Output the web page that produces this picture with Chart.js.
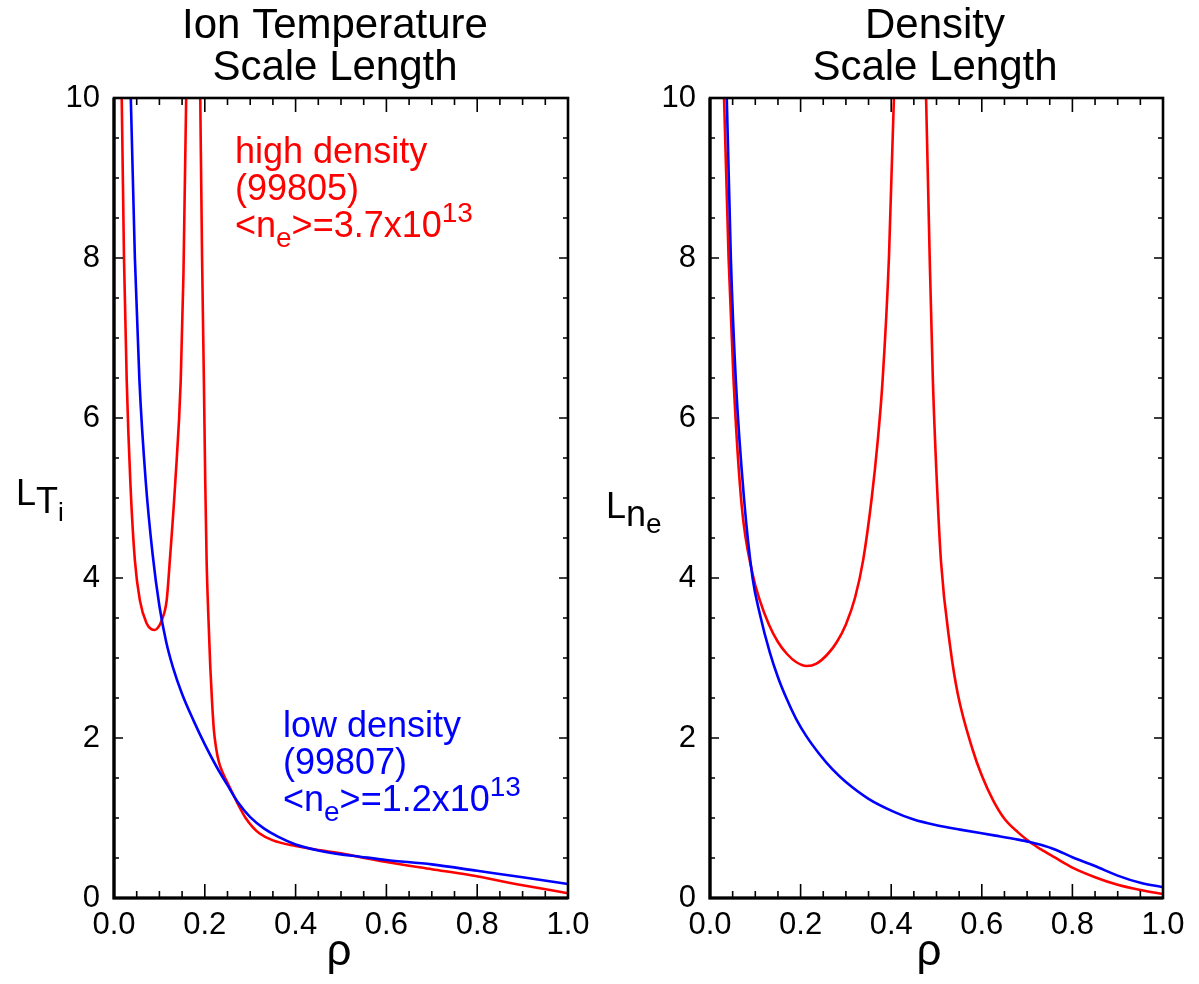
<!DOCTYPE html>
<html>
<head>
<meta charset="utf-8">
<script src="https://cdn.jsdelivr.net/npm/chart.js@4.4.1/dist/chart.umd.min.js"></script>
<style>
  html, body { margin: 0; padding: 0; background: #fff; }
  .panel { position: absolute; top: 0; height: 984px; }
  #left { left: 0; width: 600px; }
  #right { left: 600px; width: 599px; }
</style>
</head>
<body>
<div class="panel" id="left"><canvas id="tiChart"></canvas></div>
<div class="panel" id="right"><canvas id="neChart"></canvas></div>
<script>
// --- data (null = break where the scale length blows up) ---
const rhoTiHigh = [0.010, 0.017, 0.022, 0.028, 0.036, 0.046, 0.057, 0.072, 0.082, 0.090, 0.097, 0.105, 0.116, 0.123, 0.135, 0.147, 0.153, 0.159, 0.166,
                   0.174,
                   0.182, 0.190, 0.194, 0.198, 0.201, 0.204, 0.208, 0.212, 0.216, 0.220, 0.225, 0.231, 0.240, 0.250, 0.262, 0.275, 0.290, 0.305, 0.320, 0.350, 0.400, 0.450, 0.500, 0.530, 0.600, 0.700, 0.780, 0.900, 1.000];
const tiHigh    = [14, 10, 8, 6.47, 5.2, 4.22, 3.72, 3.43, 3.36, 3.35, 3.38, 3.47, 3.72, 4.22, 5.2, 6.47, 7.8, 10, 14,
                   null,
                   14, 10, 8, 6.47, 5.2, 4.22, 3.5, 2.9, 2.45, 2.1, 1.87, 1.7, 1.56, 1.44, 1.3, 1.15, 1.0, 0.89, 0.81, 0.72, 0.65, 0.60, 0.56, 0.525, 0.45, 0.36, 0.29, 0.16, 0.06];

const rhoTiLow  = [0.030, 0.037, 0.046, 0.056, 0.070, 0.085, 0.100, 0.115, 0.130, 0.150, 0.175, 0.200, 0.225, 0.250, 0.275, 0.300, 0.330, 0.360, 0.400, 0.450, 0.500, 0.530, 0.600, 0.700, 0.800, 0.900, 1.000];
const tiLow     = [12.5, 10, 8, 6.47, 5.2, 4.3, 3.65, 3.2, 2.88, 2.55, 2.22, 1.92, 1.65, 1.41, 1.18, 1.01, 0.87, 0.77, 0.67, 0.595, 0.545, 0.525, 0.475, 0.42, 0.34, 0.26, 0.175];

const rhoNeHigh = [0.024, 0.031, 0.041, 0.052, 0.070, 0.094, 0.110, 0.130, 0.150, 0.170, 0.190, 0.213, 0.235, 0.260, 0.280, 0.300, 0.320, 0.338, 0.357, 0.370, 0.381, 0.395, 0.406, 0.415,
                   0.440,
                   0.470, 0.477, 0.485, 0.492, 0.500, 0.510, 0.530, 0.547, 0.580, 0.600, 0.625, 0.650, 0.680, 0.706, 0.730, 0.760, 0.800, 0.850, 0.900, 0.950, 1.000];
const neHigh    = [12, 10, 8, 6.47, 4.9, 4.05, 3.72, 3.42, 3.2, 3.05, 2.95, 2.9, 2.93, 3.05, 3.2, 3.42, 3.75, 4.22, 5.0, 5.7, 6.47, 8, 10, 12,
                   null,
                   12, 10, 8, 6.47, 5.3, 4.2, 3.15, 2.55, 1.85, 1.53, 1.22, 0.99, 0.82, 0.70, 0.61, 0.51, 0.38, 0.26, 0.165, 0.10, 0.05];

const rhoNeLow  = [0.030, 0.037, 0.046, 0.057, 0.075, 0.094, 0.110, 0.132, 0.150, 0.170, 0.190, 0.213, 0.240, 0.270, 0.300, 0.350, 0.405, 0.450, 0.500, 0.552, 0.630, 0.680, 0.706, 0.730, 0.760, 0.800, 0.850, 0.900, 0.950, 1.000];
const neLow     = [12, 10, 8, 6.47, 5.0, 4.0, 3.55, 3.07, 2.76, 2.48, 2.24, 2.02, 1.81, 1.61, 1.45, 1.24, 1.08, 0.98, 0.91, 0.855, 0.78, 0.73, 0.70, 0.665, 0.61, 0.51, 0.40, 0.28, 0.19, 0.135];

const xTicks = [0.0, 0.2, 0.4, 0.6, 0.8, 1.0];
const yTicks = [0, 2, 4, 6, 8, 10];

const RED = '#ff0000';
const BLUE = '#0000ff';
const FONT = '"Liberation Sans", Arial, Helvetica, sans-serif';

function pts(xs, ys) {
    return xs.map((x, i) => ({ x: x, y: ys[i] }));
}

function line(xs, ys, color) {
    return {
        data: pts(xs, ys),
        borderColor: color,
        borderWidth: 2.6,
        pointRadius: 0,
        showLine: true,
        spanGaps: false,
        cubicInterpolationMode: 'monotone',
        clip: 0
    };
}

// draw text runs: [text, sizePx, dyFromBaseline]
function runs(ctx, x, y, parts, color) {
    ctx.fillStyle = color;
    ctx.textAlign = 'left';
    ctx.textBaseline = 'alphabetic';
    parts.forEach(p => {
        ctx.font = p[1] + 'px ' + FONT;
        ctx.fillText(p[0], x, y + p[2]);
        x += ctx.measureText(p[0]).width;
    });
}

// frame + inward ticks on all four sides, plus the page texts
function framePlugin(opts) {
    return {
        id: 'frame',
        afterDraw(chart) {
            const ctx = chart.ctx;
            const a = chart.chartArea;
            const xs = chart.scales.x, ys = chart.scales.y;
            ctx.save();
            ctx.strokeStyle = '#000';
            ctx.lineWidth = 1.6;
            ctx.beginPath();
            for (let i = 0; i <= 20; i++) {
                const px = xs.getPixelForValue(i * 0.05);
                const len = (i % 4 === 0) ? 14 : 7;
                ctx.moveTo(px, a.bottom); ctx.lineTo(px, a.bottom - len);
                ctx.moveTo(px, a.top); ctx.lineTo(px, a.top + len);
            }
            for (let i = 0; i <= 20; i++) {
                const py = ys.getPixelForValue(i * 0.5);
                const len = (i % 4 === 0) ? 9 : 5;
                ctx.moveTo(a.left, py); ctx.lineTo(a.left + len, py);
                ctx.moveTo(a.right, py); ctx.lineTo(a.right - len, py);
            }
            ctx.stroke();
            ctx.lineWidth = 2.6;
            ctx.strokeRect(a.left, a.top, a.right - a.left, a.bottom - a.top);
            ctx.lineWidth = 3.2;
            ctx.beginPath();
            ctx.moveTo(a.left, a.top); ctx.lineTo(a.left, a.bottom); ctx.lineTo(a.right, a.bottom);
            ctx.stroke();

            // titles
            ctx.fillStyle = '#000';
            ctx.textAlign = 'center';
            ctx.textBaseline = 'alphabetic';
            ctx.font = '42px ' + FONT;
            ctx.fillText(opts.title[0], opts.titleX, 38);
            ctx.fillText(opts.title[1], opts.titleX, 80);
            ctx.font = '44px ' + FONT;
            ctx.fillText('ρ', opts.rhoX, 965);

            runs(ctx, opts.yLabel.x, opts.yLabel.y, opts.yLabel.parts, '#000');
            opts.notes.forEach(n => {
                ctx.fillStyle = n.color;
                ctx.textAlign = 'left';
                ctx.font = '36px ' + FONT;
                ctx.fillText(n.lines[0], n.x, n.y);
                ctx.fillText(n.lines[1], n.x, n.y + 37);
                runs(ctx, n.x, n.y + 74, n.lines[2], n.color);
            });
            ctx.restore();
        }
    };
}

function makeChart(id, datasets, yWidth, rightPad, plugOpts) {
    return new Chart(document.getElementById(id), {
        type: 'scatter',
        data: { datasets: datasets },
        options: {
            responsive: true,
            maintainAspectRatio: false,
            animation: false,
            layout: { padding: { top: 98, right: rightPad, bottom: 0, left: 0 } },
            plugins: { legend: { display: false }, tooltip: { enabled: false } },
            scales: {
                x: {
                    type: 'linear', min: 0, max: 1,
                    afterFit: s => { s.height = 86; },
                    afterBuildTicks: s => { s.ticks = xTicks.map(v => ({ value: v })); },
                    grid: { display: false, drawTicks: false },
                    border: { display: false },
                    ticks: {
                        autoSkip: false, maxRotation: 0, padding: 9, color: '#000',
                        font: { family: FONT, size: 31 },
                        callback: v => Number(v).toFixed(1)
                    }
                },
                y: {
                    type: 'linear', min: 0, max: 10,
                    afterFit: s => { s.width = yWidth; },
                    afterBuildTicks: s => { s.ticks = yTicks.map(v => ({ value: v })); },
                    grid: { display: false, drawTicks: false },
                    border: { display: false },
                    ticks: {
                        autoSkip: false, padding: 14, color: '#000',
                        font: { family: FONT, size: 31 },
                        callback: v => String(Math.round(v))
                    }
                }
            }
        },
        plugins: [framePlugin(plugOpts)]
    });
}

makeChart('tiChart',
    [line(rhoTiLow, tiLow, BLUE), line(rhoTiHigh, tiHigh, RED)],
    114, 32,
    {
        title: ['Ion Temperature', 'Scale Length'], titleX: 335, rhoX: 339,
        yLabel: { x: 16, y: 505, parts: [['L', 36, 0], ['T', 36, 8], ['i', 26, 16]] },
        notes: [
            { color: RED, x: 235, y: 163, lines: ['high density', '(99805)', [['<n', 36, 0], ['e', 28, 10], ['>=3.7x10', 36, 0], ['13', 28, -15]]] },
            { color: BLUE, x: 283, y: 737, lines: ['low density', '(99807)', [['<n', 36, 0], ['e', 28, 10], ['>=1.2x10', 36, 0], ['13', 28, -15]]] }
        ]
    });

makeChart('neChart',
    [line(rhoNeLow, neLow, BLUE), line(rhoNeHigh, neHigh, RED)],
    110, 36,
    {
        title: ['Density', 'Scale Length'], titleX: 335, rhoX: 329,
        yLabel: { x: 6, y: 518, parts: [['L', 36, 0], ['n', 36, 8], ['e', 28, 15]] },
        notes: []
    });
</script>
</body>
</html>
